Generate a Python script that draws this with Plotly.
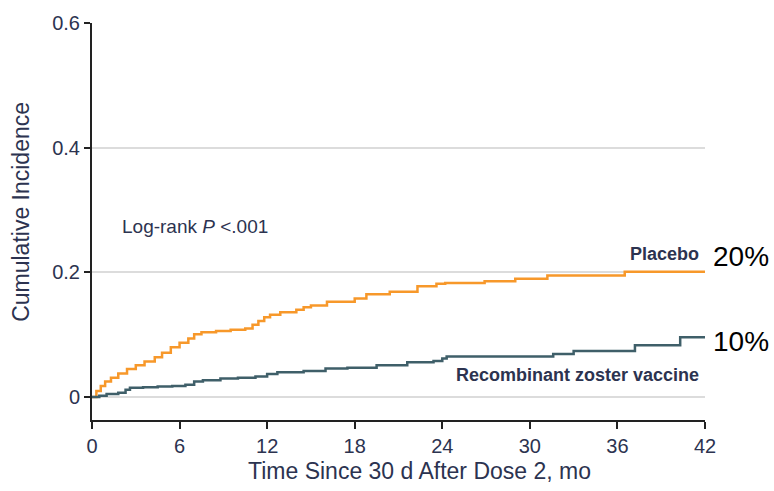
import plotly.graph_objects as go

# Placebo cumulative incidence (step function)
placebo_t = [0, 0.3, 0.6, 0.9, 1.3, 1.8, 2.4, 3.0, 3.6, 4.3, 4.8, 5.4, 6.0, 6.6, 7.0, 7.5,
             8.5, 9.5, 10.5, 11.0, 11.4, 11.8, 12.2, 12.9, 14.0, 14.5, 15.0, 16.1, 18.0,
             18.8, 20.4, 22.3, 23.6, 24.2, 26.9, 29.0, 31.2, 36.5, 42.0]
placebo_v = [0, 0.010, 0.018, 0.025, 0.031, 0.038, 0.045, 0.051, 0.057, 0.064, 0.071, 0.080,
             0.087, 0.094, 0.101, 0.104, 0.106, 0.108, 0.110, 0.116, 0.122, 0.128, 0.132,
             0.136, 0.140, 0.144, 0.147, 0.153, 0.158, 0.165, 0.169, 0.178, 0.182, 0.183,
             0.186, 0.190, 0.195, 0.201, 0.201]

# Recombinant zoster vaccine cumulative incidence (step function)
vaccine_t = [0, 0.5, 1.0, 1.8, 2.3, 2.6, 3.5, 4.5, 5.5, 6.4, 7.0, 7.6, 8.8, 10.0, 11.2, 12.0,
             12.7, 14.5, 16.0, 17.5, 19.5, 21.6, 23.4, 24.0, 24.3, 31.6, 33.0, 37.2, 40.3, 42.0]
vaccine_v = [0, 0.002, 0.005, 0.007, 0.012, 0.015, 0.016, 0.017, 0.018, 0.020, 0.025, 0.027,
             0.030, 0.031, 0.033, 0.037, 0.040, 0.042, 0.046, 0.047, 0.051, 0.056, 0.058,
             0.062, 0.065, 0.069, 0.074, 0.083, 0.096, 0.096]

x_ticks = [0, 6, 12, 18, 24, 30, 36, 42]
y_ticks = [0, 0.2, 0.4, 0.6]
y_tick_labels = ["0", "0.2", "0.4", "0.6"]

FONT = "Liberation Sans, Arial, sans-serif"
TXT = "#2c3350"
ORANGE = "#f7982a"
TEAL = "#3f5f69"

fig = go.Figure()
fig.add_trace(go.Scatter(x=placebo_t, y=placebo_v, mode="lines", line_shape="hv",
                         line=dict(color=ORANGE, width=2.5), name="Placebo"))
fig.add_trace(go.Scatter(x=vaccine_t, y=vaccine_v, mode="lines", line_shape="hv",
                         line=dict(color=TEAL, width=2.5), name="Recombinant zoster vaccine"))

fig.update_layout(
    width=774, height=491,
    margin=dict(l=92, r=69, t=21, b=71),
    paper_bgcolor="white", plot_bgcolor="white",
    showlegend=False,
    font=dict(family=FONT, color=TXT, size=18),
)
fig.update_xaxes(
    range=[0, 42], tickvals=x_ticks, ticks="outside", ticklen=7, tickwidth=2,
    tickcolor="#222", showline=True, linecolor="#222", linewidth=2,
    showgrid=False, zeroline=False,
    tickfont=dict(family=FONT, size=20, color=TXT),
)
fig.update_yaxes(
    range=[-0.0367, 0.6], tickvals=y_ticks, ticktext=y_tick_labels, ticks="outside",
    ticklen=6, tickwidth=2, tickcolor="#222", showline=True, linecolor="#222", linewidth=2,
    showgrid=True, gridcolor="#dcdcdc", gridwidth=1.5, zeroline=False,
    tickfont=dict(family=FONT, size=20, color=TXT),
)

# Axis titles
fig.add_annotation(x=0.535, y=-0.128, xref="paper", yref="paper", xanchor="center",
                   yanchor="middle", text="Time Since 30 d After Dose 2, mo", showarrow=False,
                   font=dict(family=FONT, size=23, color=TXT))
fig.add_annotation(x=-0.116, y=0.524, xref="paper", yref="paper", xanchor="center",
                   yanchor="middle", text="Cumulative Incidence", textangle=-90,
                   showarrow=False, font=dict(family=FONT, size=23, color=TXT))

fig.add_annotation(x=1.9, y=0.274, xref="x", yref="y", xanchor="left", yanchor="middle",
                   text="Log-rank <i>P</i> <.001", showarrow=False,
                   font=dict(family=FONT, size=19, color=TXT))
fig.add_annotation(x=41.7, y=0.2295, xref="x", yref="y", xanchor="right", yanchor="middle",
                   text="<b>Placebo</b>", showarrow=False,
                   font=dict(family=FONT, size=18, color=TXT))
fig.add_annotation(x=41.7, y=0.035, xref="x", yref="y", xanchor="right", yanchor="middle",
                   text="<b>Recombinant zoster vaccine</b>", showarrow=False,
                   font=dict(family=FONT, size=18, color=TXT))
fig.add_annotation(x=1.01, y=0.225, xref="paper", yref="y", xanchor="left", yanchor="middle",
                   text="20%", showarrow=False,
                   font=dict(family=FONT, size=28, color="#000"))
fig.add_annotation(x=1.01, y=0.089, xref="paper", yref="y", xanchor="left", yanchor="middle",
                   text="10%", showarrow=False,
                   font=dict(family=FONT, size=28, color="#000"))

fig.write_html("out.html")
